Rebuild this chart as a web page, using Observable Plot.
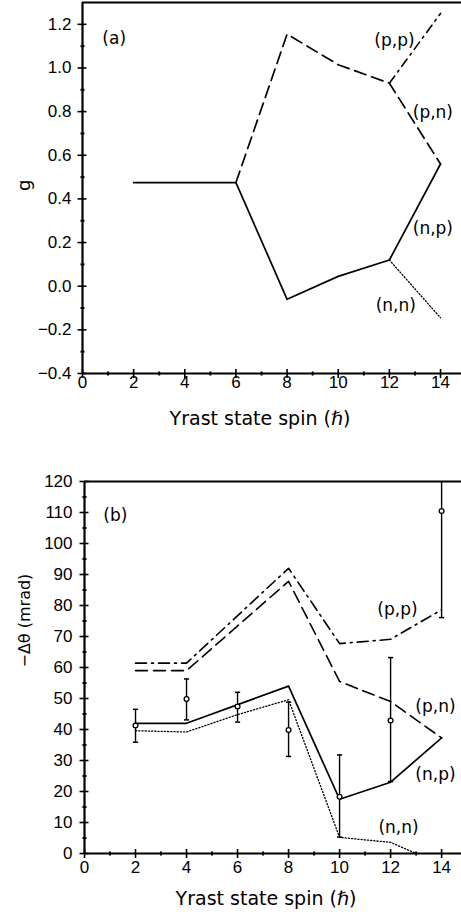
<!DOCTYPE html>
<html><head><meta charset="utf-8">
<script src="https://cdn.jsdelivr.net/npm/d3@7"></script>
<script src="https://cdn.jsdelivr.net/npm/@observablehq/plot@0.6"></script>
<style>body{margin:0;background:#fff} svg{display:block}</style>
</head><body><div id="chart"></div>
<script>
// ---------- shared tick labels ----------
const spinTicks = [0, 2, 4, 6, 8, 10, 12, 14];
const spinMinor = [1, 3, 5, 7, 9, 11, 13];
const xTitle = "Yrast state spin (\u210F)";

// ---------- panel (a): g factor ----------
const gTicks = [-0.4, -0.2, 0.0, 0.2, 0.4, 0.6, 0.8, 1.0, 1.2];
const gMinor = [-0.3, -0.1, 0.1, 0.3, 0.5, 0.7, 0.9, 1.1];
const gSpin_np = [2, 6, 8, 10, 12, 14];
const g_np     = [0.475, 0.475, -0.06, 0.045, 0.12, 0.56];
const gSpin_pn = [6, 8, 10, 12, 14];
const g_pn     = [0.475, 1.155, 1.015, 0.93, 0.56];
const gSpin_pp = [12, 14];
const g_pp     = [0.93, 1.25];
const gSpin_nn = [12, 14];
const g_nn     = [0.12, -0.145];
const aLabels  = ["(a)", "(p,p)", "(p,n)", "(n,p)", "(n,n)"];
const aLabelX  = [1.24, 12.2, 13.7, 13.7, 12.25];
const aLabelY  = [1.137, 1.125, 0.797, 0.265, -0.09];

// ---------- panel (b): -Δθ ----------
const dTicks = [0, 10, 20, 30, 40, 50, 60, 70, 80, 90, 100, 110, 120];
const dMinor = [5, 15, 25, 35, 45, 55, 65, 75, 85, 95, 105, 115];
const dSpin_np = [2, 4, 8, 10, 12, 14];
const d_np     = [42, 42, 54, 17.5, 23, 37.3];
const dSpin_nn = [2, 4, 6, 8, 10, 12, 13];
const d_nn     = [39.6, 39.2, 44.8, 49.6, 5.2, 3.6, 0];
const dSpin_pn = [2, 4, 8, 10, 12, 14];
const d_pn     = [59, 59, 87.8, 55.5, 49, 37.3];
const dSpin_pp = [2, 4, 8, 10, 12, 14];
const d_pp     = [61.4, 61.4, 92, 67.7, 69.1, 78.6];
const measSpin = [2, 4, 6, 8, 10, 12, 14];
const measVal  = [41.3, 49.8, 47.4, 39.8, 18.3, 42.9, 110.5];
const measLo   = [35.9, 43.1, 42.4, 31.3, 5.3, 23.2, 76.1];
const measHi   = [46.5, 56.3, 52.0, 48.8, 31.8, 63.2, 145];
const bLabels  = ["(b)", "(p,p)", "(p,n)", "(n,p)", "(n,n)"];
const bLabelX  = [1.21, 12.27, 13.76, 13.76, 12.31];
const bLabelY  = [108.9, 78.6, 47.3, 25.4, 8.3];

// custom symbols: short lines used for axis ticks and error-bar caps
const vLine = {draw(c, s) { const r = Math.sqrt(s / Math.PI); c.moveTo(0, -r); c.lineTo(0, r); }};
const hLine = {draw(c, s) { const r = Math.sqrt(s / Math.PI); c.moveTo(-r, 0); c.lineTo(r, 0); }};

const TICKFONT = "Liberation Sans";
const LABELFONT = "DejaVu Sans";
const styleBase = {fontFamily: TICKFONT, fontSize: "17px", color: "black", background: "white"};

function axisMarks(yMin, yMax, yTicks, yMinor, fmt, xPad, yPad) {
  return [
    Plot.ruleY([yMin], {strokeWidth: 2.2}),
    Plot.ruleY([yMax], {strokeWidth: 2}),
    Plot.ruleX([0], {strokeWidth: 2.2}),
    Plot.dot(spinTicks, {x: d => d, y: yMin, symbol: vLine, r: 4.5, stroke: "black", fill: "none", strokeWidth: 1.6}),
    Plot.dot(spinMinor, {x: d => d, y: yMin, symbol: vLine, r: 2, stroke: "black", fill: "none", strokeWidth: 2}),
    Plot.dot(yTicks, {x: 0, y: d => d, symbol: hLine, r: 4.5, dx: -0.5, stroke: "black", fill: "none", strokeWidth: 1.6}),
    Plot.dot(yMinor, {x: 0, y: d => d, symbol: hLine, r: 2, stroke: "black", fill: "none", strokeWidth: 2}),
    Plot.axisX({ticks: spinTicks, tickSize: 0, tickPadding: xPad, tickFormat: d => String(d), label: null, fontSize: 17}),
    Plot.axisY({ticks: yTicks, tickSize: 0, tickPadding: yPad, tickFormat: fmt, label: null, fontSize: 17})
  ];
}

const plotA = Plot.plot({
  width: 461, height: 440,
  marginLeft: 82, marginRight: 0, marginTop: 2, marginBottom: 67,
  style: styleBase,
  x: {domain: [0, 14.82]},
  y: {domain: [-0.4, 1.3]},
  marks: [
    ...axisMarks(-0.4, 1.3, gTicks, gMinor, d3.format(".1f"), 2, 11),
    Plot.line(gSpin_np, {x: gSpin_np, y: g_np, stroke: "black", strokeWidth: 1.7}),
    Plot.line(gSpin_pn, {x: gSpin_pn, y: g_pn, stroke: "black", strokeWidth: 1.7, strokeDasharray: "12,6"}),
    Plot.line(gSpin_pp, {x: gSpin_pp, y: g_pp, stroke: "black", strokeWidth: 1.6, strokeDasharray: "9,5,2,5"}),
    Plot.line(gSpin_nn, {x: gSpin_nn, y: g_nn, stroke: "black", strokeWidth: 1.3, strokeDasharray: "1.2,2"}),
    Plot.text(aLabels, {x: aLabelX, y: aLabelY, text: d => d, textAnchor: "middle", fontSize: 17, fontFamily: LABELFONT}),
    Plot.text([xTitle], {frameAnchor: "bottom", dy: 51, dx: -12, fontSize: 19, fontFamily: LABELFONT}),
    Plot.text(["g"], {frameAnchor: "left", rotate: -90, dx: -58, dy: 3, fontSize: 18, fontFamily: LABELFONT})
  ]
});

const plotB = Plot.plot({
  width: 461, height: 479,
  marginLeft: 84, marginRight: 0, marginTop: 41, marginBottom: 66,
  style: styleBase,
  x: {domain: [0, 14.78]},
  y: {domain: [0, 120]},
  marks: [
    ...axisMarks(0, 120, dTicks, dMinor, d => String(d), 7, 12),
    Plot.line(dSpin_pp, {x: dSpin_pp, y: d_pp, stroke: "black", strokeWidth: 1.6, strokeDasharray: "11,5,2,5"}),
    Plot.line(dSpin_pn, {x: dSpin_pn, y: d_pn, stroke: "black", strokeWidth: 1.6, strokeDasharray: "12,6"}),
    Plot.line(dSpin_nn, {x: dSpin_nn, y: d_nn, stroke: "black", strokeWidth: 1.3, strokeDasharray: "1.2,2"}),
    Plot.line(dSpin_np, {x: dSpin_np, y: d_np, stroke: "black", strokeWidth: 1.7}),
    Plot.ruleX(measSpin, {x: measSpin, y1: measLo, y2: measHi, strokeWidth: 1.4, clip: true}),
    Plot.dot(measSpin, {x: measSpin, y: measLo, symbol: hLine, r: 2.6, stroke: "black", fill: "none", strokeWidth: 1.5}),
    Plot.dot(measSpin, {x: measSpin, y: measHi, symbol: hLine, r: 2.6, stroke: "black", fill: "none", strokeWidth: 1.5, clip: true}),
    Plot.dot(measSpin, {x: measSpin, y: measVal, r: 2.4, stroke: "black", fill: "white", strokeWidth: 1.3}),
    Plot.text(bLabels, {x: bLabelX, y: bLabelY, text: d => d, textAnchor: "middle", fontSize: 17, fontFamily: LABELFONT}),
    Plot.text([xTitle], {frameAnchor: "bottom", dy: 51, dx: -7, fontSize: 19, fontFamily: LABELFONT}),
    Plot.text(["\u2212\u0394\u03B8 (mrad)"], {frameAnchor: "left", rotate: -90, dx: -60, fontSize: 16, fontFamily: LABELFONT})
  ]
});

const root = document.getElementById("chart");
root.appendChild(plotA);
root.appendChild(plotB);
</script>
</body></html>
